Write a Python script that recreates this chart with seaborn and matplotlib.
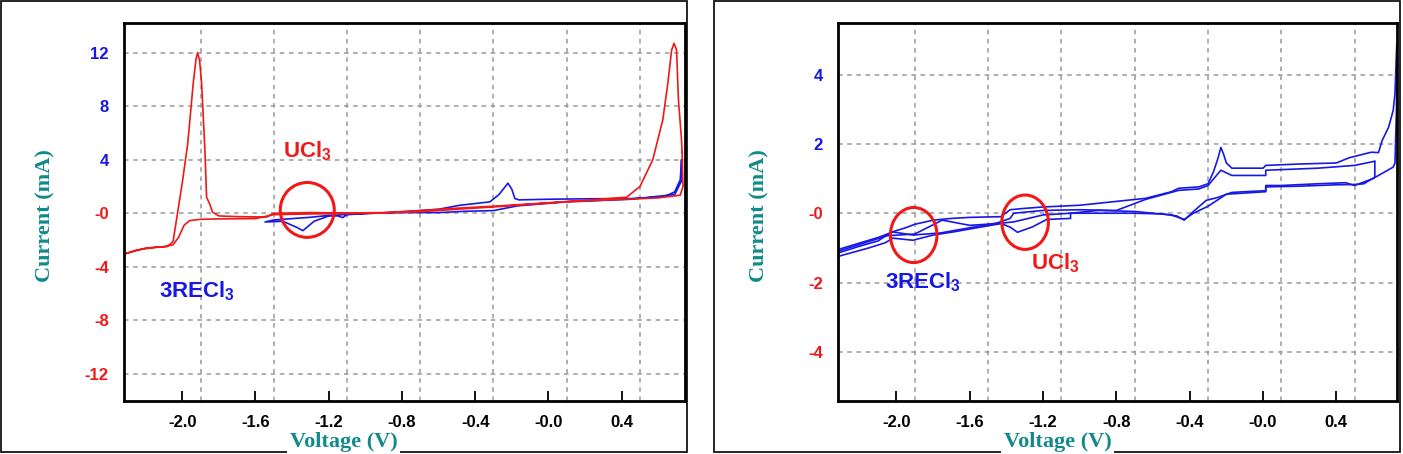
import numpy as np
import pandas as pd
import matplotlib
matplotlib.use("Agg")
import matplotlib.pyplot as plt
import seaborn as sns
from matplotlib.patches import Ellipse, Rectangle

# ---------------- data (left panel) ----------------
red_v = [0.73, 0.735, 0.72, 0.60, 0.43, 0.10, -0.27, -0.50, -0.70, -0.90, -1.10, -1.30, -1.50,
         -1.60, -1.80, -1.90, -1.96, -1.99, -2.02, -2.05, -2.10, -2.20, -2.318,
         -2.25, -2.15, -2.08, -2.05, -2.02, -2.00, -1.97, -1.94, -1.925, -1.916, -1.905, -1.894,
         -1.876, -1.867, -1.85, -1.835, -1.80, -1.70, -1.54, -1.50, -1.30, -1.10, -0.90, -0.70,
         -0.50, -0.27, 0.10, 0.427, 0.50, 0.57, 0.625, 0.652, 0.673, 0.686, 0.70, 0.71, 0.727, 0.73]
red_i = [4.6, 2.0, 1.35, 1.15, 1.05, 0.87, 0.50, 0.30, 0.12, 0.03, -0.02, -0.05, -0.10,
         -0.40, -0.42, -0.45, -0.55, -0.90, -1.80, -2.35, -2.50, -2.60, -3.05,
         -2.75, -2.55, -2.48, -2.10, 0.50, 2.25, 5.2, 9.7, 11.5, 12.0, 11.4, 9.7,
         4.7, 1.2, 0.7, 0.1, -0.2, -0.25, -0.28, 0.0, 0.05, 0.02, 0.05, 0.20,
         0.38, 0.55, 0.87, 1.20, 2.0, 4.0, 7.0, 9.7, 12.2, 12.7, 12.2, 8.5, 5.5, 4.6]

blue_v = [0.727, 0.73, 0.69, 0.45, 0.10, -0.17, -0.30, -0.45, -0.60, -0.80, -1.00, -1.12, -1.20,
          -1.28, -1.341, -1.375, -1.45, -1.548,
          -1.50, -1.40, -1.30, -1.194, -1.15, -1.123, -1.10, -0.95, -0.812, -0.60, -0.483, -0.32,
          -0.27, -0.221, -0.20, -0.183, -0.16, 0.0, 0.20, 0.45, 0.63, 0.69, 0.72, 0.727]
blue_i = [4.0, 2.5, 1.40, 1.05, 0.85, 0.55, 0.20, 0.15, 0.05, 0.05, 0.0, -0.10, -0.20,
          -0.60, -1.30, -1.05, -0.60, -0.65,
          -0.50, -0.40, -0.30, -0.15, -0.20, -0.32, -0.10, 0.0, 0.10, 0.30, 0.60, 0.85,
          1.40, 2.25, 1.80, 1.10, 1.00, 1.05, 1.08, 1.10, 1.22, 1.60, 2.50, 4.0]

# ---------------- data (right panel: several sweeps) ----------------
r_c1_v = [0.73, 0.728, 0.72, 0.71, 0.65, 0.60, 0.55, 0.50, 0.45, 0.30, 0.10, 0.015, 0.015, -0.10,
          -0.17, -0.25, -0.31, -0.38, -0.43, -0.47, -0.55, -0.70, -0.90, -1.05, -1.05, -1.18, -1.26,
          -1.34, -1.38, -1.43, -1.54, -1.69, -1.80, -1.91, -2.02, -2.06, -2.15, -2.32]
r_c1_i = [4.9, 3.0, 1.45, 1.33, 1.15, 1.00, 0.90, 0.80, 0.88, 0.85, 0.80, 0.80, 0.65, 0.62,
          0.60, 0.45, 0.37, 0.05, -0.20, -0.08, -0.02, 0.0, 0.0, 0.0, -0.15, -0.18, -0.40,
          -0.55, -0.40, -0.30, -0.40, -0.54, -0.63, -0.78, -0.72, -0.85, -1.00, -1.25]

r_a1_v = [-2.32, -2.20, -2.10, -2.03, -1.95, -1.90, -1.80, -1.70, -1.60, -1.43, -1.38, -1.30, -1.20,
          -1.00, -0.82, -0.64, -0.50, -0.46, -0.35, -0.30, -0.27, -0.245, -0.23, -0.215, -0.20,
          -0.17, 0.0, 0.015, 0.20, 0.40, 0.47, 0.59, 0.63, 0.65, 0.685, 0.71, 0.72, 0.73]
r_a1_i = [-1.15, -0.95, -0.80, -0.55, -0.42, -0.32, -0.20, -0.15, -0.12, -0.10, 0.10, 0.14, 0.18,
          0.23, 0.33, 0.43, 0.62, 0.72, 0.76, 0.85, 1.20, 1.60, 1.90, 1.70, 1.45,
          1.30, 1.30, 1.38, 1.42, 1.45, 1.60, 1.76, 1.75, 2.10, 2.48, 2.96, 3.45, 4.9]

r_a2_v = [-2.32, -2.10, -2.02, -1.91, -1.76, -1.60, -1.45, -1.38, -1.36, -1.20, -1.00, -0.80, -0.64,
          -0.46, -0.35, -0.30, -0.23, -0.17, 0.015, 0.015, 0.30, 0.50, 0.61]
r_a2_i = [-1.05, -0.70, -0.54, -0.63, -0.57, -0.42, -0.28, -0.15, 0.0, 0.08, 0.10, 0.08, 0.40,
          0.66, 0.70, 0.80, 1.24, 1.09, 1.09, 1.24, 1.30, 1.38, 1.50]

r_c2_v = [0.61, 0.61, 0.55, 0.50, 0.40, 0.20, 0.015, 0.015, -0.20, -0.30, -0.38, -0.43, -0.50,
          -0.70, -0.90, -1.05, -1.20, -1.36, -1.45, -1.60, -1.75, -1.90, -2.05, -2.32]
r_c2_i = [1.50, 1.04, 0.85, 0.83, 0.82, 0.78, 0.76, 0.62, 0.55, 0.20, 0.0, -0.18, -0.05,
          0.05, 0.08, 0.0, -0.05, -0.25, -0.30, -0.35, -0.20, -0.60, -0.65, -1.10]

x_ticks = [-2.0, -1.6, -1.2, -0.8, -0.4, 0.0, 0.4]
x_tick_labels = ["-2.0", "-1.6", "-1.2", "-0.8", "-0.4", "-0.0", "0.4"]
x_grid = [-1.9, -1.5, -1.1, -0.7, -0.3, 0.1, 0.5]
left_y_ticks = [12, 8, 4, 0, -4, -8, -12]
left_y_labels = ["12", "8", "4", "-0", "-4", "-8", "-12"]
right_y_ticks = [4, 2, 0, -2, -4]
right_y_labels = ["4", "2", "-0", "-2", "-4"]

# ---------------- styling ----------------
RED = "#f01818"
BLUE = "#1818e6"
TEAL = "#128a8a"
GRID = "#9a9a9a"

sns.set_theme(style="white")
plt.rcParams['font.family'] = ['Liberation Sans', 'DejaVu Sans']
plt.rcParams['mathtext.fontset'] = 'custom'
plt.rcParams['mathtext.bf'] = 'Liberation Sans:bold'
plt.rcParams['mathtext.rm'] = 'Liberation Sans:bold'

W, H = 1403, 454
fig = plt.figure(figsize=(W / 100, H / 100), dpi=100, facecolor="white")


def px_box(x0, y0, x1, y1):
    return [x0 / W, 1 - y1 / H, (x1 - x0) / W, (y1 - y0) / H]


axL = fig.add_axes(px_box(124, 23, 685, 401))
axR = fig.add_axes(px_box(838, 23, 1397, 401))

# panel frames
for (x0, y0, x1, y1) in [(1, 1, 687, 452), (714, 1, 1400, 452)]:
    fig.add_artist(Rectangle((x0 / W, 1 - y1 / H), (x1 - x0) / W, (y1 - y0) / H,
                             transform=fig.transFigure, fill=False, ec="black", lw=1.2, zorder=-1))

dfL_blue = pd.DataFrame({"V": blue_v, "I": blue_i})
dfL_red = pd.DataFrame({"V": red_v, "I": red_i})
sns.lineplot(data=dfL_blue, x="V", y="I", sort=False, estimator=None, color=BLUE, lw=1.2, ax=axL)
sns.lineplot(data=dfL_red, x="V", y="I", sort=False, estimator=None, color=RED, lw=1.2, ax=axL)

segs = []
for name, v, i in [("c1", r_c1_v, r_c1_i), ("a1", r_a1_v, r_a1_i),
                   ("a2", r_a2_v, r_a2_i), ("c2", r_c2_v, r_c2_i)]:
    segs.append(pd.DataFrame({"V": v, "I": i, "sweep": name}))
dfR = pd.concat(segs, ignore_index=True)
sns.lineplot(data=dfR, x="V", y="I", units="sweep", sort=False, estimator=None,
             color=BLUE, lw=1.2, ax=axR)


def style(ax, xlim, ylim, yticks, ylabels, xlab_x):
    ax.set_xlim(*xlim)
    ax.set_ylim(*ylim)
    ax.set_xticks(x_ticks)
    ax.set_xticklabels(x_tick_labels, fontweight="bold", fontsize=12, color="black")
    ax.set_xticks(x_grid, minor=True)
    ax.tick_params(axis="x", which="major", direction="in", length=7, width=1.3,
                   pad=10, bottom=True, color="black")
    ax.tick_params(axis="x", which="minor", length=0, bottom=True)
    ax.set_yticks(yticks)
    ax.set_yticklabels(ylabels, fontweight="bold", fontsize=12)
    for lab, val in zip(ax.get_yticklabels(), yticks):
        lab.set_color(BLUE if val > 0 else RED)
    ax.tick_params(axis="y", length=0, pad=11)
    ax.grid(False)
    ax.xaxis.grid(True, which="minor", color=GRID, linestyle=(0, (3, 3)), lw=1.1)
    ax.yaxis.grid(True, which="major", color=GRID, linestyle=(0, (3, 3)), lw=1.1)
    for s in ax.spines.values():
        s.set_visible(True)
        s.set_color("black")
        s.set_linewidth(2.0)
    ax.set_xlabel("Voltage (V)", family="Liberation Serif", fontweight="bold", fontsize=16,
                  color=TEAL, bbox=dict(facecolor="white", edgecolor="none", pad=2))
    ax.xaxis.set_label_coords(xlab_x, -0.123)
    ax.xaxis.label.set_va("baseline")
    ax.set_ylabel("Current (mA)", family="Liberation Serif", fontweight="bold", fontsize=16,
                  color=TEAL)
    ax.yaxis.set_label_coords(-0.122, 0.49)


style(axL, (-2.318, 0.746), (-14.03, 14.22), left_y_ticks, left_y_labels, 0.392)
style(axR, (-2.319, 0.731), (-5.42, 5.49), right_y_ticks, right_y_labels, 0.393)

# annotations
axL.add_patch(Ellipse((-1.317, 0.25), 0.295, 4.1, fill=False, ec=RED, lw=2.2, zorder=5))
axL.text(-1.319, 4.65, r"$\mathbf{UCl_3}$", color=RED, fontsize=16, ha="center", va="center")
axL.text(-1.92, -5.79, r"$\mathbf{3RECl_3}$", color=BLUE, fontsize=16, ha="center", va="center")

axR.add_patch(Ellipse((-1.906, -0.63), 0.254, 1.59, fill=False, ec=RED, lw=2.2, zorder=5))
axR.add_patch(Ellipse((-1.298, -0.26), 0.254, 1.57, fill=False, ec=RED, lw=2.2, zorder=5))
axR.text(-1.857, -2.0, r"$\mathbf{3RECl_3}$", color=BLUE, fontsize=16, ha="center", va="center")
axR.text(-1.136, -1.45, r"$\mathbf{UCl_3}$", color=RED, fontsize=16, ha="center", va="center")

fig.savefig("out.png", dpi=100, facecolor="white")
